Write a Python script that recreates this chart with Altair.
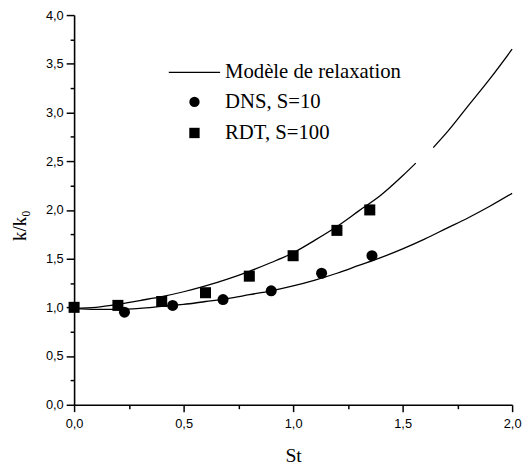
import altair as alt
import pandas as pd

# Model curves
upper_a_x = [0.0, 0.1, 0.2, 0.3, 0.4, 0.5, 0.6, 0.7, 0.8, 0.9, 1.0, 1.1, 1.2, 1.3, 1.4, 1.5, 1.56]
upper_a_y = [0.99, 1.00, 1.03, 1.07, 1.11, 1.16, 1.22, 1.29, 1.37, 1.46, 1.56, 1.69, 1.83, 1.99, 2.15, 2.35, 2.48]
upper_b_x = [1.64, 1.7, 1.8, 1.9, 2.0]
upper_b_y = [2.64, 2.79, 3.07, 3.35, 3.65]
lower_x = [0.0, 0.1, 0.2, 0.3, 0.4, 0.5, 0.6, 0.7, 0.8, 0.9, 1.0, 1.1, 1.2, 1.3, 1.4, 1.5, 1.6, 1.7, 1.8, 1.9, 2.0]
lower_y = [0.99, 0.98, 0.98, 0.99, 1.01, 1.03, 1.06, 1.09, 1.13, 1.17, 1.22, 1.28, 1.35, 1.43, 1.51, 1.60, 1.70, 1.81, 1.92, 2.04, 2.17]

# Data points
dns_x = [0.23, 0.45, 0.68, 0.90, 1.13, 1.36]
dns_y = [0.95, 1.02, 1.08, 1.17, 1.35, 1.53]
rdt_x = [0.0, 0.2, 0.4, 0.6, 0.8, 1.0, 1.2, 1.35]
rdt_y = [1.00, 1.02, 1.06, 1.15, 1.32, 1.53, 1.79, 2.00]

model_label = "Modèle de relaxation"
series_labels = ["DNS, S=10", "RDT, S=100"]
x_ticks = [0.0, 0.25, 0.5, 0.75, 1.0, 1.25, 1.5, 1.75, 2.0]
y_ticks = [0.0, 0.25, 0.5, 0.75, 1.0, 1.25, 1.5, 1.75, 2.0, 2.25, 2.5, 2.75, 3.0, 3.25, 3.5, 3.75, 4.0]

curves = pd.concat([
    pd.DataFrame({"St": upper_a_x, "k": upper_a_y, "seg": "upper_a"}),
    pd.DataFrame({"St": upper_b_x, "k": upper_b_y, "seg": "upper_b"}),
    pd.DataFrame({"St": lower_x, "k": lower_y, "seg": "lower"}),
], ignore_index=True)
curves["label"] = model_label

points = pd.concat([
    pd.DataFrame({"St": dns_x, "k": dns_y, "series": series_labels[0]}),
    pd.DataFrame({"St": rdt_x, "k": rdt_y, "series": series_labels[1]}),
], ignore_index=True)

label_expr = "datum.value % 0.5 === 0 ? replace(format(datum.value, '.1f'), '.', ',') : ''"

common_axis = dict(
    labelExpr=label_expr,
    labelOverlap=False,
    labelFlush=False,
    labelFont="Liberation Sans",
    labelFontSize=13,
    labelColor="black",
    domainColor="black",
    domainWidth=1.6,
    tickColor="black",
    tickWidth=1.5,
    grid=False,
    titleFont="Liberation Serif",
    titleFontWeight="normal",
    titleColor="black",
)

x_enc = alt.X(
    "St:Q",
    scale=alt.Scale(domain=[0, 2], nice=False, zero=False),
    axis=alt.Axis(
        values=x_ticks,
        title="St",
        titleFontSize=20,
        tickSize={"condition": {"test": "datum.value % 0.5 === 0", "value": 7}, "value": 4},
        labelPadding=6,
        titleY=52,
        titleBaseline="middle",
        **common_axis,
    ),
)
y_enc = alt.Y(
    "k:Q",
    scale=alt.Scale(domain=[0, 4], nice=False, zero=False),
    axis=alt.Axis(
        values=y_ticks,
        title="k/k₀",
        titleFontSize=19,
        tickSize={"condition": {"test": "datum.value % 0.5 === 0", "value": 8}, "value": 4},
        labelPadding=3,
        titleX=-55,
        titleY=213,
        titleAngle=270,
        titleAlign="center",
        titleBaseline="middle",
        **common_axis,
    ),
)

legend_common = dict(
    orient="none",
    title=None,
    padding=0,
    labelFont="Liberation Serif",
    labelFontSize=21,
    labelColor="black",
    labelLimit=400,
    labelBaseline="middle",
)

lines = alt.Chart(curves).mark_line(strokeWidth=1.3, interpolate="monotone").encode(
    x=x_enc,
    y=y_enc,
    detail="seg:N",
    color=alt.Color(
        "label:N",
        scale=alt.Scale(domain=[model_label], range=["black"]),
        legend=alt.Legend(
            legendX=95,
            legendY=31,
            symbolType="stroke",
            symbolSize=2704,
            symbolStrokeWidth=1.2,
            symbolStrokeColor="black",
            labelOffset=4,
            **legend_common,
        ),
    ),
)

marks = alt.Chart(points).mark_point(filled=True, color="black", opacity=1, size=125).encode(
    x=x_enc,
    y=y_enc,
    shape=alt.Shape(
        "series:N",
        scale=alt.Scale(domain=series_labels, range=["circle", "square"]),
        legend=alt.Legend(
            legendX=111.5,
            legendY=77.5,
            symbolSize=110,
            symbolFillColor="black",
            symbolStrokeWidth=0,
            labelOffset=20.5,
            rowPadding=9.5,
            **legend_common,
        ),
    ),
)

chart = alt.layer(lines, marks).resolve_legend(color="independent", shape="independent").properties(
    width=444,
    height=395,
    autosize=alt.AutoSizeParams(type="none"),
    padding={"left": 67, "top": 4, "right": 10, "bottom": 66},
    background="white",
).configure_view(stroke=None)

chart.save("out.html", embed_options={"renderer": "svg", "actions": False})
